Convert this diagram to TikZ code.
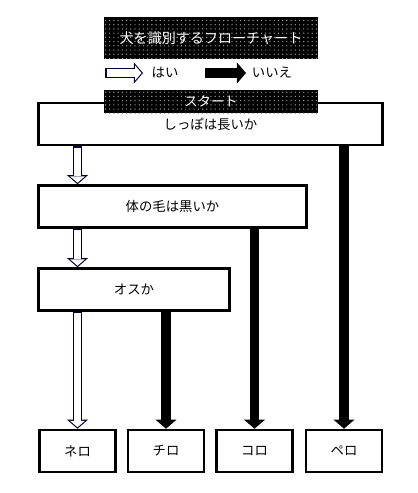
\documentclass[tikz,border=0pt]{standalone}
\usepackage{fontspec}
\setmainfont{Noto Sans CJK JP}
\usetikzlibrary{arrows.meta,patterns}

\tikzset{
    question/.style={draw, line width=1.8pt, fill=white, minimum height=42*0.025cm},
    answer/.style={draw, line width=1.8pt, fill=white, minimum width=76*0.025cm, minimum height=42*0.025cm},
    banner/.style={preaction={fill=black}, pattern=dots, pattern color=gray!80, text=white, inner sep=0pt},
    noarrow/.style={line width=7pt, black, -{Triangle[width=15pt, length=6.5pt, line width=0pt]}},
    yesout/.style={line width=7pt, black!80!blue, -{Triangle[width=15pt, length=6.5pt, line width=0pt]}},
    yesin/.style={line width=5.4pt, white, shorten <=1.2pt, shorten >=1.06pt, -{Triangle[width=10.7pt, length=4.6pt, line width=0pt]}}
}

\begin{document}
\begin{tikzpicture}[x=0.025cm, y=-0.025cm, font=\fontsize{9.5}{11}\selectfont]
    \useasboundingbox (0,0) rectangle (417,493);

    % title and legend
    \node[banner, minimum width=214*0.025cm, minimum height=42*0.025cm, font=\fontsize{10}{12}\selectfont] (title) at (211,38) {犬を識別するフローチャート};
    \coordinate (yes1) at (105,73);
    \coordinate (yes2) at (143,73);
    \coordinate (no1) at (205,73);
    \coordinate (no2) at (246,73);
    \node (yes) at (165,73) {はい};
    \node (no) at (272,73) {いいえ};
    \draw[yesout] (yes1) -- (yes2);
    \draw[yesin] (yes1) -- (yes2);
    \draw[noarrow] (no1) -- (no2);

    % questions
    \node[question, minimum width=344*0.025cm] (tail) at (210.5,124) {しっぽは長いか};
    \node[banner, minimum width=214*0.025cm, minimum height=23*0.025cm] (start) at (211,101.5) {スタート};
    \node[question, minimum width=268*0.025cm] (black) at (172.5,206.5) {体の毛は黒いか};
    \node[question, minimum width=191*0.025cm] (male) at (134,289.5) {オスか};

    % answers
    \node[answer] (nero) at (77.5,451) {ネロ};
    \node[answer] (chiro) at (166,451) {チロ};
    \node[answer] (koro) at (254.5,451) {コロ};
    \node[answer] (pero) at (344,451) {ペロ};

    % yes
    \draw[yesout] (nero |- tail.south) -- (nero |- black.north);
    \draw[yesin] (nero |- tail.south) -- (nero |- black.north);
    \draw[yesout] (nero |- black.south) -- (nero |- male.north);
    \draw[yesin] (nero |- black.south) -- (nero |- male.north);
    \draw[yesout] (nero |- male.south) -- (nero.north);
    \draw[yesin] (nero |- male.south) -- (nero.north);

    % no
    \draw[noarrow] (chiro |- male.south) -- (chiro.north);
    \draw[noarrow] (koro |- black.south) -- (koro.north);
    \draw[noarrow] (pero |- tail.south) -- (pero.north);
\end{tikzpicture}
\end{document}
